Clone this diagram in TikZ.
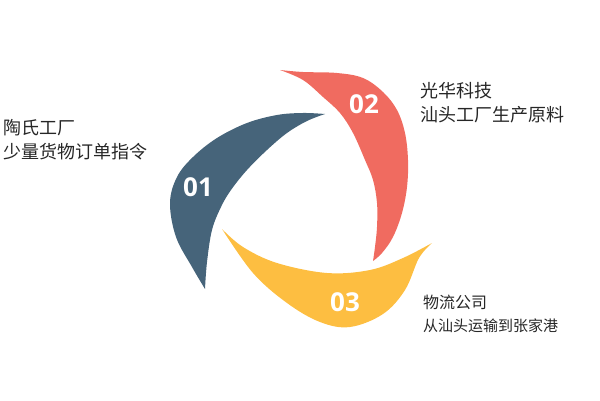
\documentclass[tikz,border=0pt]{standalone}
\usepackage{fontspec}
\setmainfont{Open Sans}
\newfontfamily\cjk{Noto Sans CJK SC}
\usepackage{xcolor}
\usetikzlibrary{positioning,calc}
\definecolor{slate}{RGB}{70,100,122}
\definecolor{coral}{RGB}{240,107,96}
\definecolor{amber}{RGB}{253,190,65}

\begin{document}
\begin{tikzpicture}[
    x=1pt, y=-1pt,
    num/.style={text=white, font=\fontsize{26}{26}\selectfont\bfseries, inner sep=0pt},
    desc/.style={anchor=west, align=left, inner sep=0pt, text=black!85, font=\cjk\fontsize{18}{24}\selectfont},
    descsm/.style={desc, font=\cjk\fontsize{16}{23}\selectfont}
]
\useasboundingbox (0,0) rectangle (600,401);
% three swooshes
\fill[slate] plot[smooth, tension=0.6] coordinates {(325,114) (303,113) (277,115) (247,123) (217,138) (193,157) (177,177) (170,203) (176,237) (192,267) (205,289)}
  -- plot[smooth, tension=0.6] coordinates {(205,289) (207,262) (212,230) (221,207) (231,190) (247,170) (267,150) (287,133) (307,121) (325,114)} -- cycle;
\fill[coral] plot[smooth, tension=0.6] coordinates {(280,70) (303,72) (337,73) (363,78) (383,92) (397,110) (405,133) (408,160) (407,187) (402,213) (393,237) (382,253) (373,261)}
  -- plot[smooth, tension=0.6] coordinates {(373,261) (375,247) (377,227) (377,203) (373,180) (365,160) (353,133) (340,113) (323,97) (303,80) (280,70)} -- cycle;
\fill[amber] plot[smooth, tension=0.6] coordinates {(222,229) (253,273) (287,303) (320,322) (350,327) (383,314) (405,290) (419,258) (432,243)}
  -- plot[smooth, tension=0.6] coordinates {(432,243) (403,258) (370,270) (327,273) (277,263) (243,247) (222,229)} -- cycle;
% step numbers
\node[num] (n1) at (198,187) {01};
\node[num] (n2) at (364,104) {02};
\node[num] (n3) at (345,302) {03};
% descriptions
\node[desc] (t1) at (3,140) {陶氏工厂\\少量货物订单指令};
\node[desc] (t2) at (420,103) {光华科技\\汕头工厂生产原料};
\node[descsm] (t3) at (423,314) {物流公司\\\fontsize{15}{23}\selectfont 从汕头运输到张家港};
\end{tikzpicture}
\end{document}
